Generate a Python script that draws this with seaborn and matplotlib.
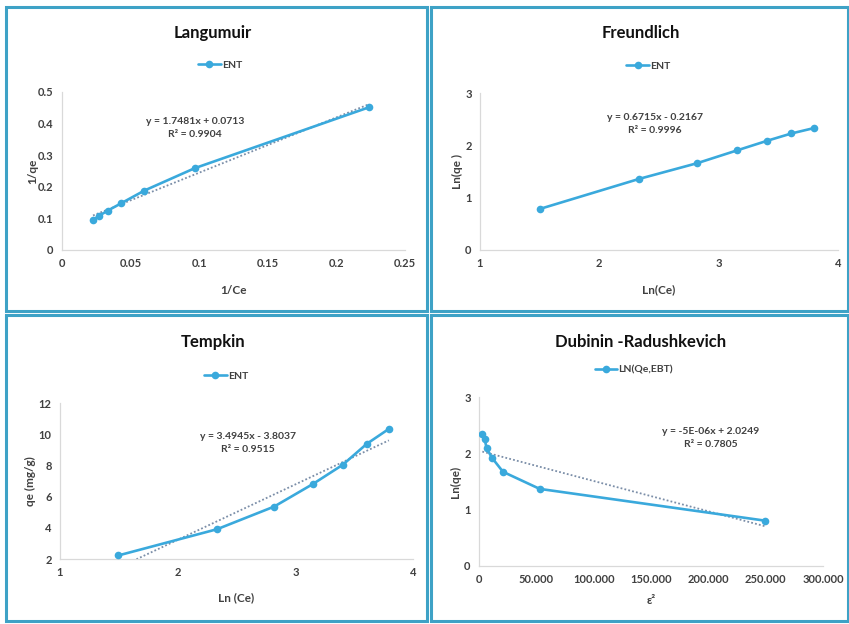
import matplotlib
matplotlib.use("Agg")
import matplotlib.pyplot as plt
import seaborn as sns
import pandas as pd
from matplotlib.patches import Rectangle
from matplotlib.ticker import FixedLocator

# ---------------- data ----------------
lang_x = [0.0226, 0.0269, 0.0335, 0.0432, 0.0600, 0.0968, 0.2240]
lang_y = [0.095, 0.108, 0.125, 0.148, 0.188, 0.259, 0.452]

freu_x = [1.502, 2.334, 2.820, 3.152, 3.406, 3.610, 3.797]
freu_y = [0.785, 1.359, 1.659, 1.902, 2.087, 2.227, 2.329]

temp_x = [1.497, 2.335, 2.820, 3.150, 3.403, 3.607, 3.795]
temp_y = [2.23, 3.91, 5.36, 6.81, 8.04, 9.38, 10.34]

dubi_x = [2900, 4940, 6690, 11340, 20930, 52900, 249100]
dubi_y = [2.347, 2.250, 2.087, 1.920, 1.672, 1.369, 0.806]

titles = ["Langumuir", "Freundlich", "Tempkin", "Dubinin -Radushkevich"]
legend_labels = ["ENT", "ENT", "ENT", "LN(Qe,EBT)"]
xlabels = ["1/Ce", "Ln(Ce)", "Ln (Ce)", "ε²"]
ylabels = ["1/qe", "Ln(qe )", "qe (mg/g)", "Ln(qe)"]
equations = ["y = 1.7481x + 0.0713\nR² = 0.9904",
             "y = 0.6715x - 0.2167\nR² = 0.9996",
             "y = 3.4945x - 3.8037\nR² = 0.9515",
             "y = -5E-06x + 2.0249\nR² = 0.7805"]

lang_xticks = [0, 0.05, 0.1, 0.15, 0.2, 0.25]
lang_xticklabels = ["0", "0.05", "0.1", "0.15", "0.2", "0.25"]
lang_yticks = [0, 0.1, 0.2, 0.3, 0.4, 0.5]
lang_yticklabels = ["0", "0.1", "0.2", "0.3", "0.4", "0.5"]
freu_xticks = [1, 2, 3, 4]
freu_yticks = [0, 1, 2, 3]
temp_xticks = [1, 2, 3, 4]
temp_yticks = [2, 4, 6, 8, 10, 12]
dubi_xticks = [0, 50000, 100000, 150000, 200000, 250000, 300000]
dubi_xticklabels = ["0", "50.000", "100.000", "150.000", "200.000", "250.000", "300.000"]
dubi_yticks = [0, 1, 2, 3]

# ---------------- style ----------------
W, H = 849, 624
sns.set_theme(style="white")
plt.rcParams['font.family'] = ['Lato', 'DejaVu Sans']

LINE = "#3aa9dc"
TREND = "#7b8ea8"
BORDER = "#3ea2c6"
TICKC = "#404040"

fig = plt.figure(figsize=(W / 100, H / 100), dpi=100)


def fx(x):
    return x / W


def fy(y):
    return 1 - y / H


def add_axes(x0, x1, ytop, ybot):
    return fig.add_axes([fx(x0), fy(ybot), fx(x1) - fx(x0), (ybot - ytop) / H])


# panel borders
panels = [(6, 7, 427, 311), (431, 7, 848, 311), (6, 315, 427, 621), (431, 315, 848, 621)]
for (x0, y0, x1, y1) in panels:
    fig.patches.append(Rectangle((fx(x0), fy(y1)), fx(x1) - fx(x0), (y1 - y0) / H,
                                 transform=fig.transFigure, fill=False,
                                 edgecolor=BORDER, linewidth=2.2, zorder=10))

axes_px = [(62, 405, 92, 250), (480, 838, 93, 250), (60, 413, 403, 559), (479, 823, 397, 566)]
datasets = [(lang_x, lang_y), (freu_x, freu_y), (temp_x, temp_y), (dubi_x, dubi_y)]
xlims = [(0, 0.25), (1, 4), (1, 4), (0, 300000)]
ylims = [(0, 0.5), (0, 3), (2, 12), (0, 3)]
xticks = [lang_xticks, freu_xticks, temp_xticks, dubi_xticks]
yticks = [lang_yticks, freu_yticks, temp_yticks, dubi_yticks]
xtl = [lang_xticklabels, [str(v) for v in freu_xticks], [str(v) for v in temp_xticks], dubi_xticklabels]
ytl = [lang_yticklabels, [str(v) for v in freu_yticks], [str(v) for v in temp_yticks], [str(v) for v in dubi_yticks]]
title_pos = [(213, 33), (641, 33), (213, 342), (641, 342)]
eq_pos = [(195, 128), (655, 124), (248, 443), (711, 438)]
leg_x = [0.46, 0.47, 0.47, 0.45]
ylab_x = [33, 457, 30, 455]
xlab_y = [290, 290, 598, 600]
show_trend = [True, False, True, True]

for i in range(4):
    x0, x1, yt, yb = axes_px[i]
    ax = add_axes(x0, x1, yt, yb)
    xs, ys = datasets[i]
    df = pd.DataFrame({"x": xs, "y": ys})
    if show_trend[i]:
        sns.regplot(data=df, x="x", y="y", ax=ax, scatter=False, ci=None, truncate=True,
                    line_kws=dict(color=TREND, ls=(0, (1, 1.2)), lw=1.3, zorder=2))
    sns.lineplot(data=df, x="x", y="y", ax=ax, color=LINE, lw=1.9, marker="o",
                 markersize=5.5, markeredgewidth=0, label=legend_labels[i], zorder=3)
    ax.set_xlim(*xlims[i])
    ax.set_ylim(*ylims[i])
    ax.xaxis.set_major_locator(FixedLocator(xticks[i]))
    ax.yaxis.set_major_locator(FixedLocator(yticks[i]))
    ax.set_xticklabels(xtl[i], fontsize=8, fontweight="bold", color=TICKC)
    ax.set_yticklabels(ytl[i], fontsize=8, fontweight="bold", color=TICKC)
    ax.tick_params(axis="both", length=0, pad=6)
    ax.set_xlabel("")
    ax.set_ylabel("")
    for s in ["top", "right"]:
        ax.spines[s].set_visible(False)
    for s in ["left", "bottom"]:
        ax.spines[s].set_color("#d9d9d9")
        ax.spines[s].set_linewidth(0.9)
    ax.set_facecolor("none")
    ax.grid(False)
    leg = ax.legend(loc="center", bbox_to_anchor=(leg_x[i], 1 + 27 / (yb - yt)),
                    frameon=False, fontsize=7.5, handlelength=2.2, handletextpad=0.1,
                    borderaxespad=0)
    for t in leg.get_texts():
        t.set_fontweight("bold")
        t.set_color(TICKC)
    # texts
    tx, ty = title_pos[i]
    fig.text(fx(tx), fy(ty), titles[i], ha="center", va="center", fontsize=12,
             fontweight="bold", color="#111111")
    ex, ey = eq_pos[i]
    fig.text(fx(ex), fy(ey), equations[i], ha="center", va="center", fontsize=7.5,
             fontweight="bold", color=TICKC, linespacing=1.45)
    fig.text(fx(ylab_x[i]), fy((yt + yb) / 2), ylabels[i], ha="center", va="center",
             rotation=90, fontsize=8.5, fontweight="bold", color=TICKC)
    fig.text(fx((x0 + x1) / 2), fy(xlab_y[i]), xlabels[i], ha="center", va="center",
             fontsize=8.5, fontweight="bold", color=TICKC)

fig.savefig("out.png", dpi=100, facecolor="white")
